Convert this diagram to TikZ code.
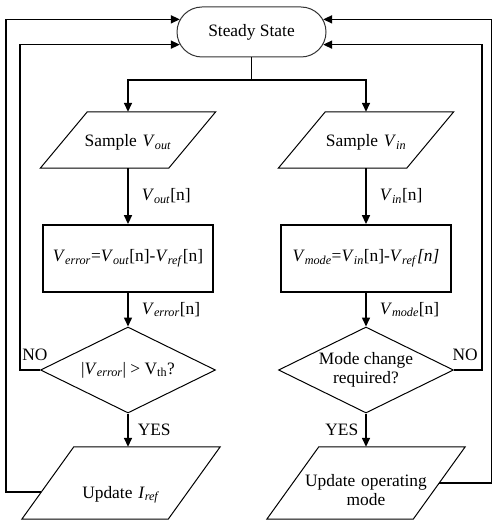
\documentclass[tikz,border=0pt]{standalone}
\usepackage{fontspec}
\setmainfont{Liberation Serif}
\usetikzlibrary{shapes.geometric,shapes.misc,arrows.meta,calc,positioning}
\definecolor{ink}{HTML}{000000}
\definecolor{rim}{HTML}{333333}
\newcommand{\Vsub}[1]{\textit{V}\textsubscript{\textit{#1}}}
% slanted input/output box round a text node: #1 node, #2 half slant
\newcommand{\drawio}[2]{%
  \coordinate (#1-bl) at ($(#1.south west)+(-#2,0)$);
  \coordinate (#1-br) at ($(#1.south east)+(-#2,0)$);
  \coordinate (#1-tr) at ($(#1.north east)+(#2,0)$);
  \coordinate (#1-tl) at ($(#1.north west)+(#2,0)$);
  \draw[iobox] (#1-bl) -- (#1-br) -- (#1-tr) -- (#1-tl) -- cycle;}
\tikzset{
  every node/.style={font=\fontsize{17.4}{19}\selectfont},
  term/.style={rounded rectangle, draw=rim, line width=1pt, minimum width=149pt, minimum height=50pt, inner sep=0pt},
  io/.style={rectangle, inner sep=0pt, align=center, text width=128pt, text height=35pt, text depth=21pt},
  iobig/.style={io, text width=146pt},
  iobox/.style={draw=ink, line width=1pt, line join=miter},
  proc/.style={rectangle, draw=ink, line width=1.8pt, minimum width=170pt, minimum height=67pt},
  dec/.style={diamond, draw=ink, line width=1pt, aspect=2.03, minimum width=175pt, minimum height=86pt, inner sep=0pt, align=center},
  flow/.style={draw=ink, line width=1.5pt, -{Triangle[length=9pt,width=8pt]}},
  plain/.style={draw=ink, line width=1.5pt},
  lab/.style={inner sep=0pt},
}
\begin{document}
\begin{tikzpicture}[x=1pt,y=-1pt]
  \useasboundingbox (0,0) rectangle (493,521);
  % blocks
  \node[term] (ss) at (251.5,32) {Steady State};
  \node[io] (smpout) at (128,140) {Sample \Vsub{out}};
  \node[io] (smpin) at (366,140) {Sample \Vsub{in}};
  \node[proc] (err) at (128,258.5) {\Vsub{error}=\Vsub{out}[n]-\Vsub{ref}[n]};
  \node[proc] (mode) at (366,258.5) {\Vsub{mode}=\Vsub{in}[n]-\Vsub{ref}\textit{[n]}};
  \node[dec] (chkerr) at (128,370) {|\Vsub{error}| > V\textsubscript{th}?};
  \node[dec] (chkmode) at (366,370) {Mode change\\required?};
  \node[iobig, text height=51pt, text depth=21pt] (updI) at (121,483) {Update \textit{I}\textsubscript{\textit{ref}}};
  \node[iobig, text height=39pt, text depth=33pt] (updM) at (366,483) {Update operating\\mode};
  \drawio{smpout}{23.5}
  \drawio{smpin}{23.5}
  \drawio{updI}{26}
  \drawio{updM}{26}
  % loop columns
  \coordinate (fork) at (251.5,80);
  \coordinate (lout) at (6,0);
  \coordinate (lin) at (20,0);
  \coordinate (rin) at (482,0);
  \coordinate (rout) at (491.5,0);
  \coordinate (tapI) at ($(updI-bl)!.375!(updI-tl)$);
  \coordinate (tapM) at ($(updM-br)!.5!(updM-tr)$);
  % forward flow
  \draw[plain] (ss.south) -- (fork);
  \draw[flow] (fork) -| (smpout.north);
  \draw[flow] (fork) -| (smpin.north);
  \draw[flow] (smpout) -- node[lab,right=13pt]{\Vsub{out}[n]} (err);
  \draw[flow] (smpin) -- node[lab,right=13pt]{\Vsub{in}[n]} (mode);
  \draw[flow] (err) -- node[lab,right=13pt]{\Vsub{error}[n]} (chkerr);
  \draw[flow] (mode) -- node[lab,right=13pt]{\Vsub{mode}[n]} (chkmode);
  \draw[flow] (chkerr.south) -- node[lab,right=9pt]{YES} (chkerr.south |- updI.north);
  \draw[flow] (chkmode) -- node[lab,left=7pt]{YES} (updM);
  % feedback
  \draw[flow] (chkerr.west) -- node[lab,above=9pt,pos=.25]{NO} (lin |- chkerr.west) -- (lin |- ss.190) -- (ss.190);
  \draw[flow] (tapI) -- (lout |- tapI) -- (lout |- ss.170) -- (ss.170);
  \draw[flow] (chkmode.east) -- node[lab,above=9pt,pos=.4]{NO} (rin |- chkmode.east) -- (rin |- ss.-10) -- (ss.-10);
  \draw[flow] (tapM) -- (rout |- tapM) -- (rout |- ss.10) -- (ss.10);
\end{tikzpicture}
\end{document}
